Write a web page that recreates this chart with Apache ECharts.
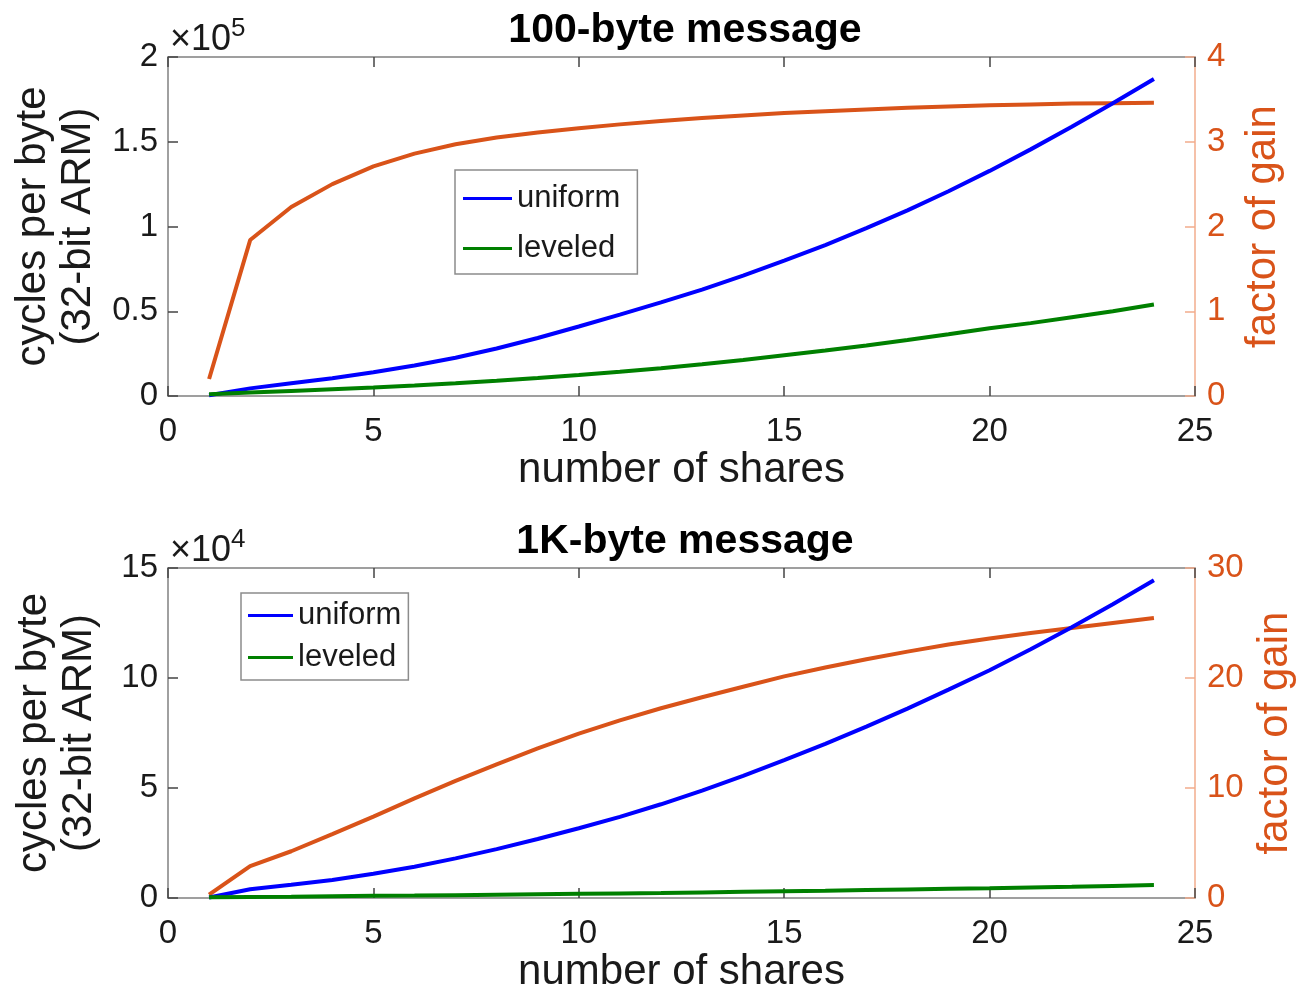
<!DOCTYPE html>
<html>
<head>
<meta charset="utf-8">
<script src="https://cdn.jsdelivr.net/npm/echarts@6/dist/echarts.min.js"></script>
<style>
html,body{margin:0;padding:0;background:#fff;}
#chart{width:1308px;height:984px;}
</style>
</head>
<body>
<div id="chart"></div>
<script>
// ---- data ----
const shares = [1,2,3,4,5,6,7,8,9,10,11,12,13,14,15,16,17,18,19,20,21,22,23,24];
// 100-byte message (cycles per byte, x1e5)
const uniform100 = [0.005,0.045,0.075,0.105,0.14,0.18,0.226,0.28,0.342,0.41,0.48,0.552,0.628,0.71,0.798,0.89,0.99,1.095,1.208,1.328,1.455,1.588,1.727,1.87];
const leveled100 = [0.01,0.02,0.03,0.04,0.05,0.062,0.075,0.09,0.106,0.124,0.143,0.164,0.187,0.212,0.24,0.268,0.298,0.33,0.364,0.40,0.43,0.465,0.50,0.54];
const gain100 = [0.2,1.84,2.23,2.5,2.71,2.86,2.97,3.05,3.11,3.16,3.205,3.245,3.28,3.31,3.34,3.36,3.38,3.40,3.415,3.43,3.44,3.45,3.455,3.46];
// 1K-byte message (cycles per byte, x1e4)
const uniform1k = [0.02,0.4,0.6,0.82,1.1,1.42,1.8,2.22,2.68,3.17,3.69,4.26,4.88,5.55,6.27,7.01,7.79,8.61,9.47,10.35,11.31,12.31,13.35,14.44];
const leveled1k = [0.03,0.05,0.06,0.08,0.1,0.11,0.13,0.15,0.17,0.19,0.21,0.23,0.255,0.28,0.305,0.33,0.36,0.39,0.415,0.44,0.475,0.51,0.55,0.59];
const gain1k = [0.3,2.9,4.25,5.8,7.4,9.05,10.65,12.15,13.6,14.95,16.15,17.25,18.25,19.2,20.15,20.95,21.7,22.4,23.05,23.6,24.1,24.55,25.0,25.45];
// titles / labels
const titles = ['100-byte message','1K-byte message'];
const xName = 'number of shares';
const yName = 'cycles per byte\n(32-bit ARM)';
const y2Name = 'factor of gain';
const exps = ['5','4'];

// ---- style ----
const FONT = "'Liberation Sans', Arial, sans-serif";
const BLUE = '#0000FF', GREEN = '#008000', ORANGE = '#D95319';
const AXC = '#808080', TXT = '#1a1a1a', ORLIGHT = '#F2AC8C';

const pairs = ys => shares.map((x,i)=>[x, ys[i]]);

const grids = [
  {left:168, top:57, right:113, height:339, outerBoundsMode:'none', containLabel:false},
  {left:168, top:568, right:113, height:330, outerBoundsMode:'none', containLabel:false}
];

function xAxes(gi){
  return [
    {type:'value', gridIndex:gi, min:0, max:25, interval:5, position:'bottom',
     name:xName, nameLocation:'middle', nameGap:53,
     nameTextStyle:{fontFamily:FONT, fontSize:42, color:TXT},
     axisLine:{show:true, onZero:false, lineStyle:{color:AXC, width:1.5}},
     axisTick:{show:true, inside:true, length:10, lineStyle:{color:'#444', width:1.5}},
     axisLabel:{fontFamily:FONT, fontSize:33, color:TXT, margin:19},
     splitLine:{show:false}},
    {type:'value', gridIndex:gi, min:0, max:25, interval:5, position:'top',
     axisLine:{show:true, onZero:false, lineStyle:{color:AXC, width:1.5}},
     axisTick:{show:true, inside:true, length:10, lineStyle:{color:'#444', width:1.5}},
     axisLabel:{show:false}, splitLine:{show:false}}
  ];
}
function yAxes(gi, lmax, linterval, rmax, rinterval){
  return [
    {type:'value', gridIndex:gi, min:0, max:lmax, interval:linterval, position:'left',
     name:yName, nameLocation:'middle', nameGap:66, nameRotate:90,
     nameTextStyle:{fontFamily:FONT, fontSize:42, color:TXT, lineHeight:45},
     axisLine:{show:true, onZero:false, lineStyle:{color:AXC, width:1.5}},
     axisTick:{show:true, inside:true, length:10, lineStyle:{color:'#444', width:1.5}},
     axisLabel:{fontFamily:FONT, fontSize:33, color:TXT, margin:10},
     splitLine:{show:false}},
    {type:'value', gridIndex:gi, min:0, max:rmax, interval:rinterval, position:'right',
     name:y2Name, nameLocation:'middle', nameGap:47, nameRotate:90,
     nameTextStyle:{fontFamily:FONT, fontSize:42, color:ORANGE},
     axisLine:{show:true, onZero:false, lineStyle:{color:ORLIGHT, width:1.5}},
     axisTick:{show:true, inside:true, length:10, lineStyle:{color:ORLIGHT, width:1.5}},
     axisLabel:{fontFamily:FONT, fontSize:33, color:ORANGE, margin:12},
     splitLine:{show:false}}
  ];
}

const option = {
  backgroundColor:'#fff',
  animation:false,
  title: titles.map((t,i)=>({
    text:t, left:680, top: i===0 ? 5 : 516, textAlign:'center',
    textStyle:{fontFamily:FONT, fontSize:41, fontWeight:'bold', color:'#000'}
  })),
  grid: grids,
  xAxis: [...xAxes(0), ...xAxes(1)],
  yAxis: [...yAxes(0, 2, 0.5, 4, 1), ...yAxes(1, 15, 5, 30, 10)],
  legend: [
    {data:['uniform','leveled'], orient:'vertical', left:455, top:170,
     icon:'rect', itemWidth:49, itemHeight:3, itemGap:19,
     padding:[13,17,10,8], borderColor:'#8c8c8c', borderWidth:1.5, backgroundColor:'#fff',
     textStyle:{fontFamily:FONT, fontSize:31, color:TXT}},
    {data:['uniform','leveled'], orient:'vertical', left:241, top:593,
     icon:'rect', itemWidth:45, itemHeight:3, itemGap:11,
     padding:[7,7,7,7], borderColor:'#8c8c8c', borderWidth:1.5, backgroundColor:'#fff',
     textStyle:{fontFamily:FONT, fontSize:31, color:TXT}}
  ],
  graphic: exps.map((e,i)=>({
    type:'text', left:170, top: i===0 ? 16 : 527, z:10,
    style:{
      text:'{a|×10}{b|'+e+'}',
      rich:{
        a:{fontFamily:FONT, fontSize:36, fill:TXT, verticalAlign:'bottom', lineHeight:42},
        b:{fontFamily:FONT, fontSize:26, fill:TXT, verticalAlign:'top', lineHeight:42}
      }
    }
  })),
  series: [
    {name:'gain100', type:'line', xAxisIndex:0, yAxisIndex:1, data:pairs(gain100), showSymbol:false, lineStyle:{color:ORANGE, width:4}, itemStyle:{color:ORANGE}},
    {name:'uniform', type:'line', xAxisIndex:0, yAxisIndex:0, data:pairs(uniform100), showSymbol:false, lineStyle:{color:BLUE, width:4}, itemStyle:{color:BLUE}},
    {name:'leveled', type:'line', xAxisIndex:0, yAxisIndex:0, data:pairs(leveled100), showSymbol:false, lineStyle:{color:GREEN, width:4}, itemStyle:{color:GREEN}},
    {name:'gain1k', type:'line', xAxisIndex:2, yAxisIndex:3, data:pairs(gain1k), showSymbol:false, lineStyle:{color:ORANGE, width:4}, itemStyle:{color:ORANGE}},
    {name:'uniform', type:'line', xAxisIndex:2, yAxisIndex:2, data:pairs(uniform1k), showSymbol:false, lineStyle:{color:BLUE, width:4}, itemStyle:{color:BLUE}},
    {name:'leveled', type:'line', xAxisIndex:2, yAxisIndex:2, data:pairs(leveled1k), showSymbol:false, lineStyle:{color:GREEN, width:4}, itemStyle:{color:GREEN}}
  ]
};
const chart = echarts.init(document.getElementById('chart'), null, {renderer:'canvas'});
chart.setOption(option);
</script>
</body>
</html>
